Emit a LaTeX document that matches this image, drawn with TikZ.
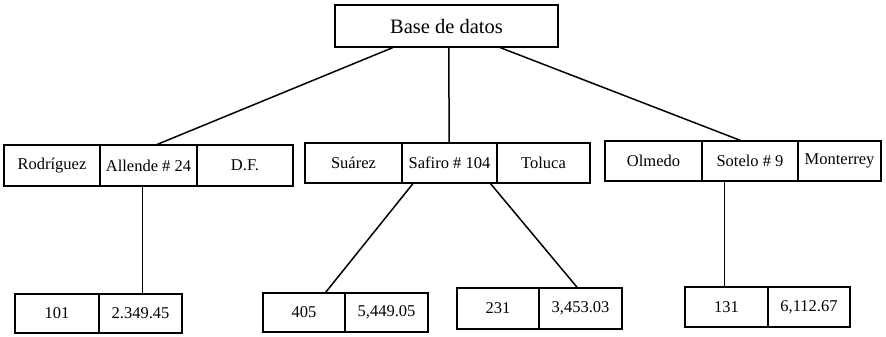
\documentclass[tikz,border=0pt]{standalone}
\usepackage{fontspec}
\setmainfont{Liberation Serif}
\usetikzlibrary{calc}
\begin{document}
\begin{tikzpicture}[x=1pt,y=-1pt,
  cell/.style={draw, line width=1.3pt, inner sep=0pt, font=\fontsize{16.5}{16.5}\selectfont},
  link/.style={line width=1.5pt}]
\useasboundingbox (0,0) rectangle (886,337);
% root
\node[cell, minimum width=223pt, minimum height=42pt, font=\fontsize{20.5}{20.5}\selectfont] (root) at (446.5,26) {Base de datos};
% first record
\node[cell, minimum width=96pt, minimum height=41pt] (r1a) at (52,165.5) {Rodríguez};
\node[cell, minimum width=97pt, minimum height=41pt] (r1b) at (148.5,165.5) {Allende \# 24};
\node[cell, minimum width=96pt, minimum height=41pt] (r1c) at (245,165.5) {D.F.};
% second record
\node[cell, minimum width=97pt, minimum height=40pt] (r2a) at (353.5,163) {Suárez};
\node[cell, minimum width=95pt, minimum height=40pt] (r2b) at (449.5,163) {Safiro \# 104};
\node[cell, minimum width=93pt, minimum height=40pt] (r2c) at (543.5,163) {Toluca};
% third record
\node[cell, minimum width=97pt, minimum height=40pt] (r3a) at (653.5,161) {Olmedo};
\node[cell, minimum width=96pt, minimum height=40pt] (r3b) at (750,161) {Sotelo \# 9};
\node[cell, minimum width=83pt, minimum height=40pt] (r3c) at (839.5,161) {Monterrey};
% detail records
\node[cell, minimum width=84pt, minimum height=39pt] (d1a) at (57,313.5) {101};
\node[cell, minimum width=83pt, minimum height=39pt] (d1b) at (140.5,313.5) {2.349.45};
\node[cell, minimum width=82pt, minimum height=39pt] (d2a) at (304,312.5) {405};
\node[cell, minimum width=83pt, minimum height=39pt] (d2b) at (386.5,312.5) {5,449.05};
\node[cell, minimum width=82pt, minimum height=41pt] (d3a) at (498,308.5) {231};
\node[cell, minimum width=83pt, minimum height=41pt] (d3b) at (580.5,308.5) {3,453.03};
\node[cell, minimum width=83pt, minimum height=40pt] (d4a) at (726.5,307) {131};
\node[cell, minimum width=82pt, minimum height=40pt] (d4b) at (809,307) {6,112.67};
% attachment points on the record boxes
\coordinate (v1) at ($(r1b.south west)!0.44!(r1b.south east)$);
\coordinate (v4) at ($(r3b.south west)!0.24!(r3b.south east)$);
% connectors
\draw[link] ($(root.south west)!0.26!(root.south east)$) -- ($(r1b.north west)!0.59!(r1b.north east)$);
\draw[link] ($(root.south west)!0.511!(root.south east)$) -- ($(r2b.north west)!0.495!(r2b.north east)$);
\draw[link] ($(root.south west)!0.74!(root.south east)$) -- ($(r3b.north west)!0.40!(r3b.north east)$);
\draw[link] (v1) -- (v1 |- d1b.north);
\draw[link] ($(r2b.south west)!0.12!(r2b.south east)$) -- ($(d2a.north west)!0.76!(d2a.north east)$);
\draw[link] ($(r2b.south west)!0.926!(r2b.south east)$) -- ($(d3b.north west)!0.46!(d3b.north east)$);
\draw[link] (v4) -- (v4 |- d4a.north);
\end{tikzpicture}
\end{document}
